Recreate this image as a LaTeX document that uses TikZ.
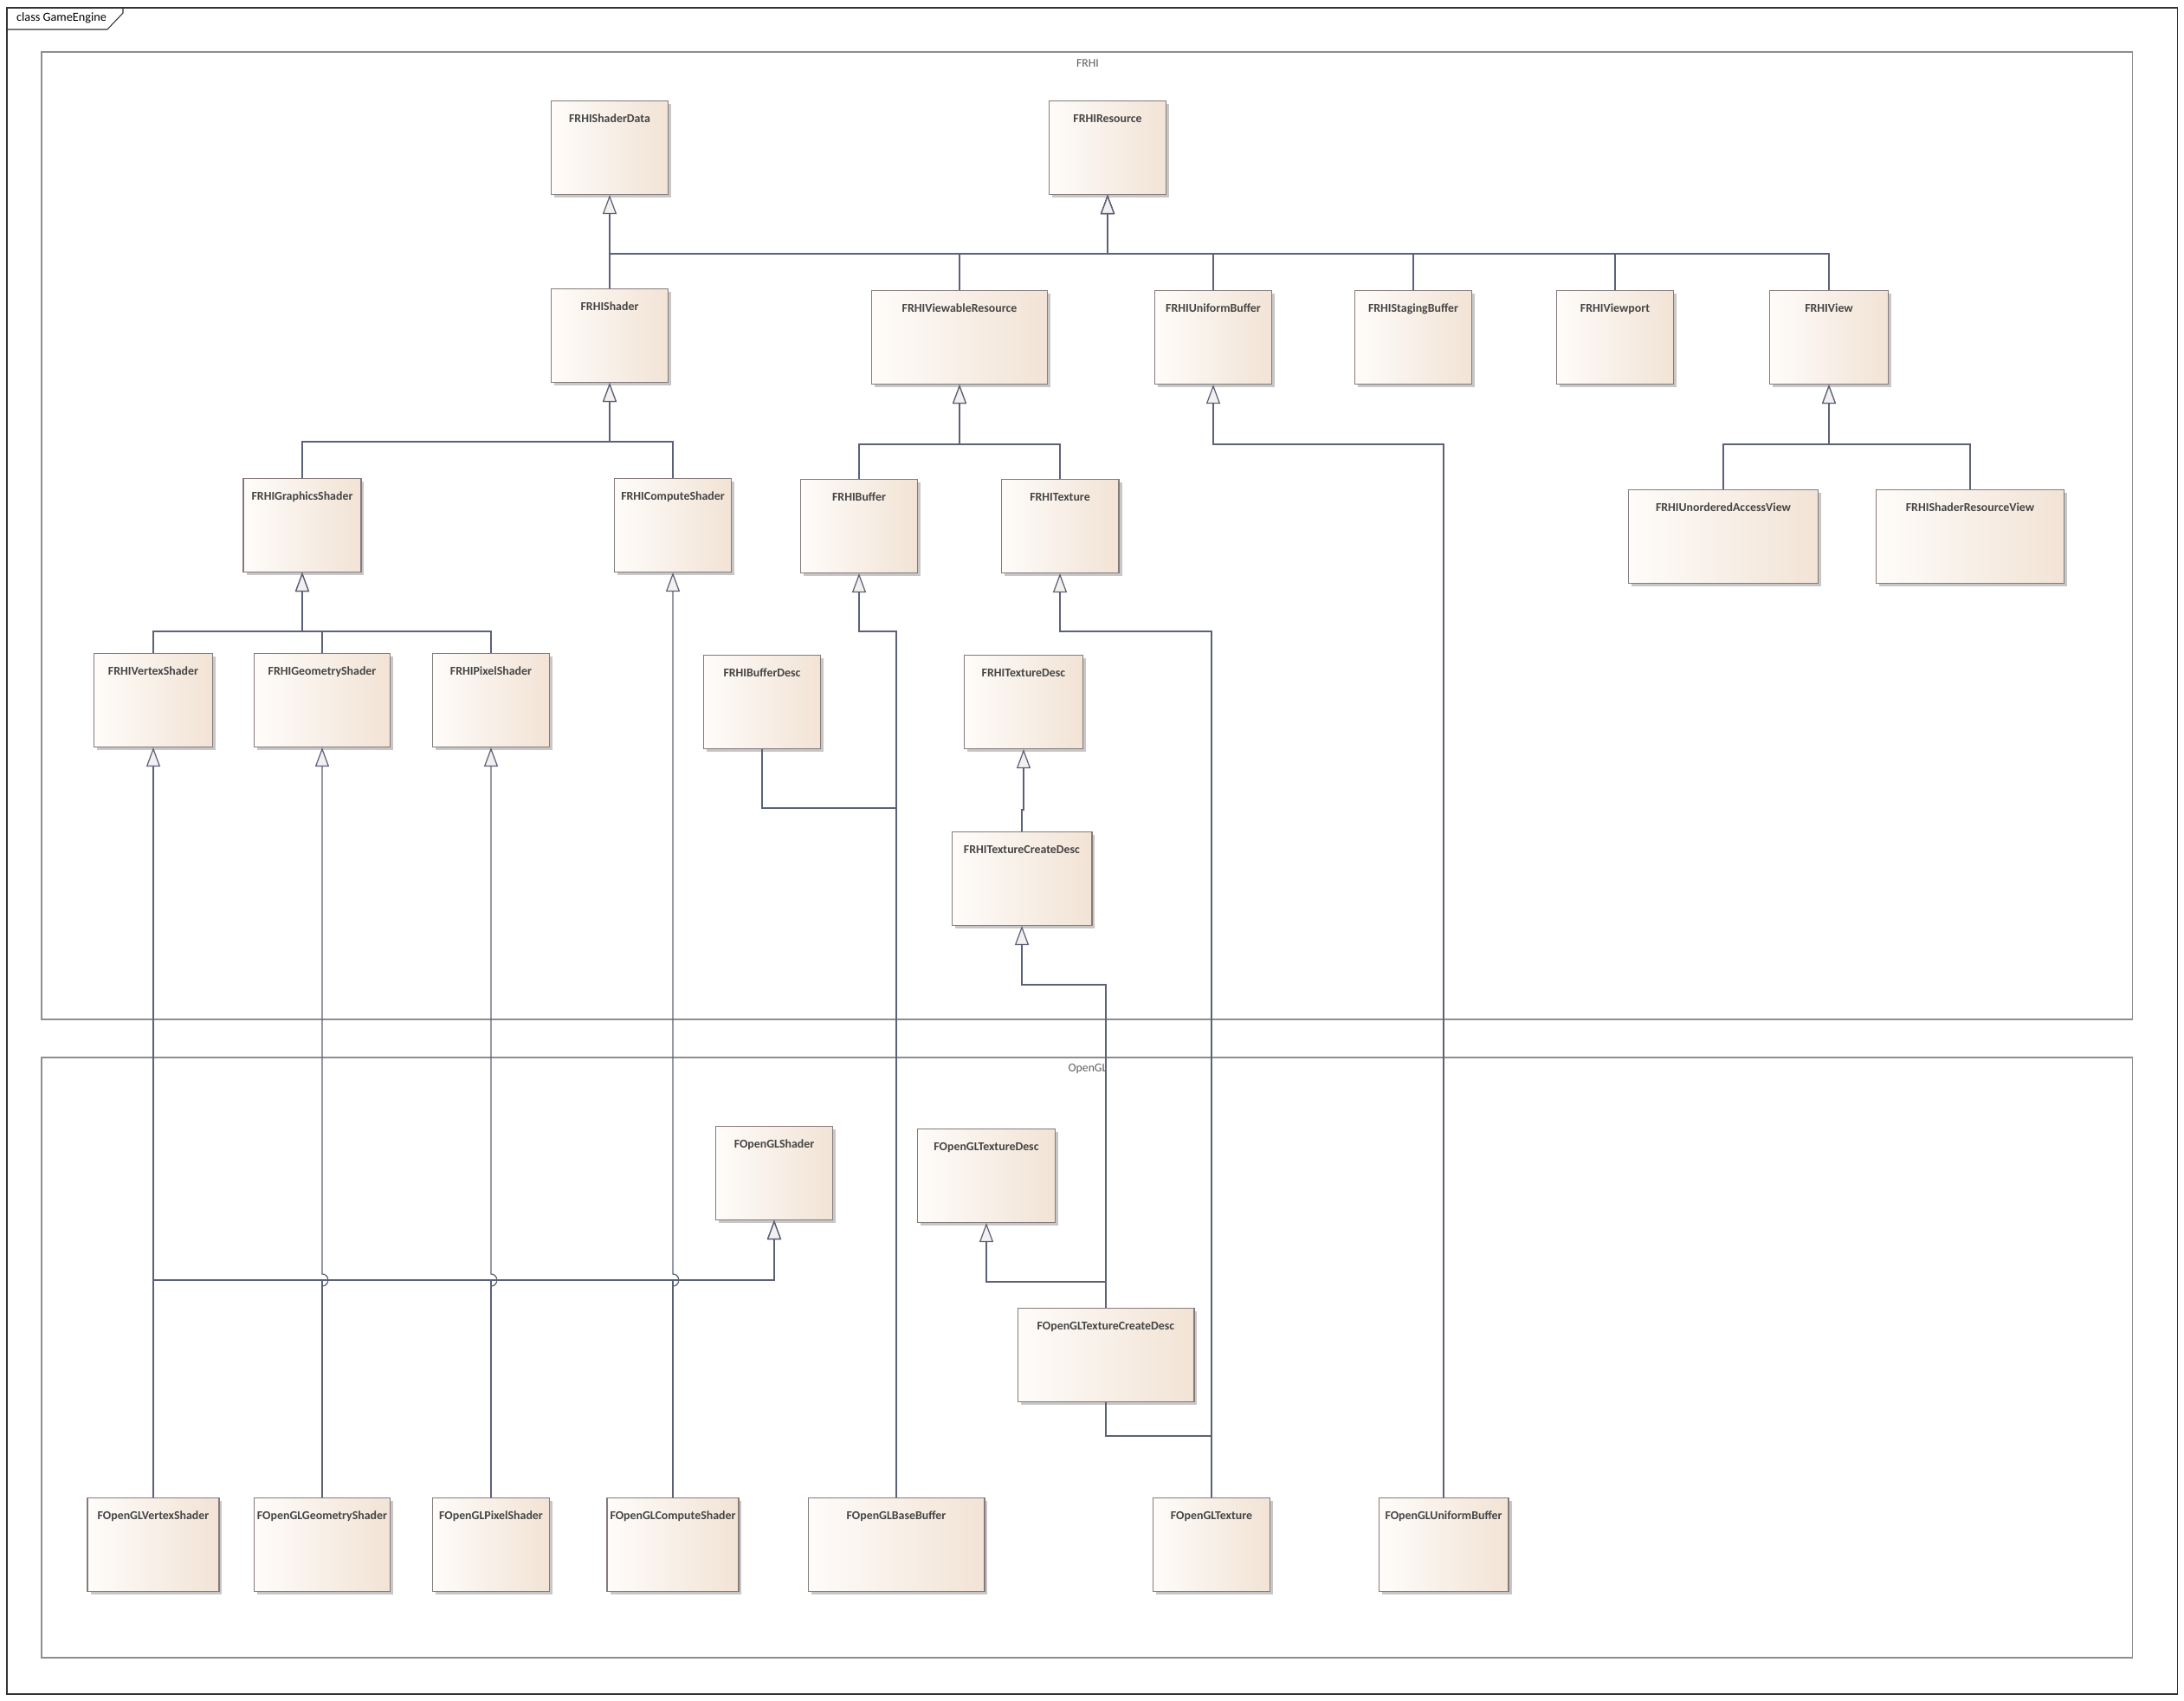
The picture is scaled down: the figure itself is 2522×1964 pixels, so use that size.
\documentclass[tikz,border=0pt]{standalone}
\usepackage{fontspec}
\setmainfont{Carlito}
\usepackage{tikz}
\usetikzlibrary{arrows.meta, shadows}

\definecolor{clsline}{HTML}{857B7B}
\definecolor{clsleft}{HTML}{FEFCFA}
\definecolor{clsright}{HTML}{F2E3D5}
\definecolor{conn}{HTML}{5B6177}
\definecolor{tipfill}{HTML}{F4F0F0}
\definecolor{pkgline}{HTML}{8E8E8E}
\definecolor{pkgtext}{HTML}{5E5E5E}
\definecolor{clstext}{HTML}{454545}

\begin{document}
\begin{tikzpicture}[
    x=0.02cm, y=-0.02cm,
    cls/.style={draw=clsline, line width=0.6pt, left color=clsleft, right color=clsright,
                anchor=north, inner xsep=2pt, inner ysep=0pt,
                text height=0.49cm, text depth=1.67cm, text=clstext,
                font=\fontsize{7.9}{10}\selectfont\bfseries,
                drop shadow={shadow xshift=0.07cm, shadow yshift=-0.07cm, fill=black!22, opacity=1}},
    pkg/.style={draw=pkgline, line width=0.6pt},
    pkglabel/.style={text=pkgtext, font=\fontsize{7.8}{9}\selectfont},
    frame/.style={draw=black!80, line width=0.6pt},
    inh/.style={draw=conn, line width=0.7pt, -{Triangle[length=0.44cm, width=0.32cm, fill=tipfill]}},
    link/.style={draw=conn, line width=0.7pt}
]
\useasboundingbox (0,0) rectangle (2522,1964);

% Diagram frame
\draw[frame] (8,9) rectangle (2514,1956);
\draw[frame] (8,34) -- (124,34) -- (142,15) -- (142,9);
\node[anchor=west, font=\fontsize{8.1}{10}\selectfont] (title) at (13,21) {class GameEngine};

% Packages
\draw[pkg] (48,60) rectangle (2462,1177);
\node[pkglabel] (frhilbl) at (1256,73) {FRHI};
\draw[pkg] (48,1221) rectangle (2462,1914);
\node[pkglabel] (opengllbl) at (1256,1234) {OpenGL};

% FRHI roots
\node[cls, minimum width=2.7cm] (shaderdata) at (704,116) {FRHIShaderData};
\node[cls, minimum width=2.7cm] (resource) at (1279,116) {FRHIResource};

% FRHIResource children
\node[cls, minimum width=2.7cm] (shader) at (704,333) {FRHIShader};
\node[cls, minimum width=4.06cm] (viewable) at (1108,335) {FRHIViewableResource};
\node[cls, minimum width=2.7cm] (uniform) at (1401,335) {FRHIUniformBuffer};
\node[cls, minimum width=2.7cm] (staging) at (1632,335) {FRHIStagingBuffer};
\node[cls, minimum width=2.7cm] (viewport) at (1865,335) {FRHIViewport};
\node[cls, minimum width=2.74cm] (view) at (2112,335) {FRHIView};

% Third level
\node[cls, minimum width=2.72cm] (gfx) at (349,552) {FRHIGraphicsShader};
\node[cls, minimum width=2.7cm] (compute) at (777,552) {FRHIComputeShader};
\node[cls, minimum width=2.7cm] (buffer) at (992,553) {FRHIBuffer};
\node[cls, minimum width=2.72cm] (texture) at (1224,553) {FRHITexture};
\node[cls, minimum width=4.38cm] (uav) at (1990,565) {FRHIUnorderedAccessView};
\node[cls, minimum width=4.34cm] (srv) at (2275,565) {FRHIShaderResourceView};

% Fourth level
\node[cls, minimum width=2.74cm] (vertex) at (177,754) {FRHIVertexShader};
\node[cls, minimum width=3.14cm] (geometry) at (372,754) {FRHIGeometryShader};
\node[cls, minimum width=2.7cm] (pixel) at (567,754) {FRHIPixelShader};
\node[cls, minimum width=2.7cm] (bufdesc) at (880,756) {FRHIBufferDesc};
\node[cls, minimum width=2.74cm] (texdesc) at (1182,756) {FRHITextureDesc};
\node[cls, minimum width=3.24cm] (createdesc) at (1180,960) {FRHITextureCreateDesc};

% OpenGL classes
\node[cls, minimum width=2.7cm] (glshader) at (894,1300) {FOpenGLShader};
\node[cls, minimum width=3.18cm] (gltexdesc) at (1139,1303) {FOpenGLTextureDesc};
\node[cls, minimum width=4.08cm] (glcreatedesc) at (1277,1510) {FOpenGLTextureCreateDesc};
\node[cls, minimum width=3.04cm] (glvertex) at (177,1729) {FOpenGLVertexShader};
\node[cls, minimum width=3.12cm] (glgeometry) at (372,1729) {FOpenGLGeometryShader};
\node[cls, minimum width=2.7cm] (glpixel) at (567,1729) {FOpenGLPixelShader};
\node[cls, minimum width=2.98cm] (glcompute) at (777,1729) {FOpenGLComputeShader};
\node[cls, minimum width=4.08cm] (glbasebuffer) at (1035,1729) {FOpenGLBaseBuffer};
\node[cls, minimum width=2.7cm] (gltexture) at (1399,1729) {FOpenGLTexture};
\node[cls, minimum width=3.0cm] (gluniform) at (1667,1729) {FOpenGLUniformBuffer};

% Bus points
\coordinate (resbus) at (1279,293);
\coordinate (shbus) at (704,510);
\coordinate (vrbus) at (1108,513);
\coordinate (viewbus) at (2112,513);
\coordinate (gfxbus) at (349,729);
\coordinate (glbus) at (894,1478);
\coordinate (bufjoin) at (1035,933);
\coordinate (texjoin) at (1399,1658);

% FRHI generalizations
\draw[inh] (shader.north) -- (shaderdata.south);
\foreach \c in {shader, viewable, uniform, staging, viewport, view}
  \draw[inh] (\c.north) |- (resbus) -- (resource.south);
\foreach \c in {gfx, compute}
  \draw[inh] (\c.north) |- (shbus) -- (shader.south);
\foreach \c in {buffer, texture}
  \draw[inh] (\c.north) |- (vrbus) -- (viewable.south);
\foreach \c in {uav, srv}
  \draw[inh] (\c.north) |- (viewbus) -- (view.south);
\foreach \c in {vertex, geometry, pixel}
  \draw[inh] (\c.north) |- (gfxbus) -- (gfx.south);
\draw[inh] (createdesc.north) -- ++(0,-25) -| (texdesc.south);

% OpenGL to FRHI
\draw[inh] (glvertex.north) -- (vertex.south);
\draw[inh] (glgeometry.north) -- (372,1485) .. controls (381,1485) and (381,1471) .. (372,1471) -- (geometry.south);
\draw[inh] (glpixel.north) -- (567,1485) .. controls (576,1485) and (576,1471) .. (567,1471) -- (pixel.south);
\draw[inh] (glcompute.north) -- (777,1485) .. controls (786,1485) and (786,1471) .. (777,1471) -- (compute.south);
\draw[inh] (glbasebuffer.north) |- (992,729) -- (buffer.south);
\draw[link] (bufdesc.south) |- (bufjoin);
\draw[inh] (gltexture.north) |- (1224,729) -- (texture.south);
\draw[inh] (gluniform.north) |- (1401,513) -- (uniform.south);
\draw[inh] (glcreatedesc.north) |- (1180,1137) -- (createdesc.south);

% OpenGL generalizations
\foreach \c in {glvertex, glgeometry, glpixel, glcompute}
  \draw[inh] (\c.north) |- (glbus) -- (glshader.south);
\draw[inh] (glcreatedesc.north) |- (1139,1480) -- (gltexdesc.south);
\draw[link] (glcreatedesc.south) |- (texjoin);

\end{tikzpicture}
\end{document}
